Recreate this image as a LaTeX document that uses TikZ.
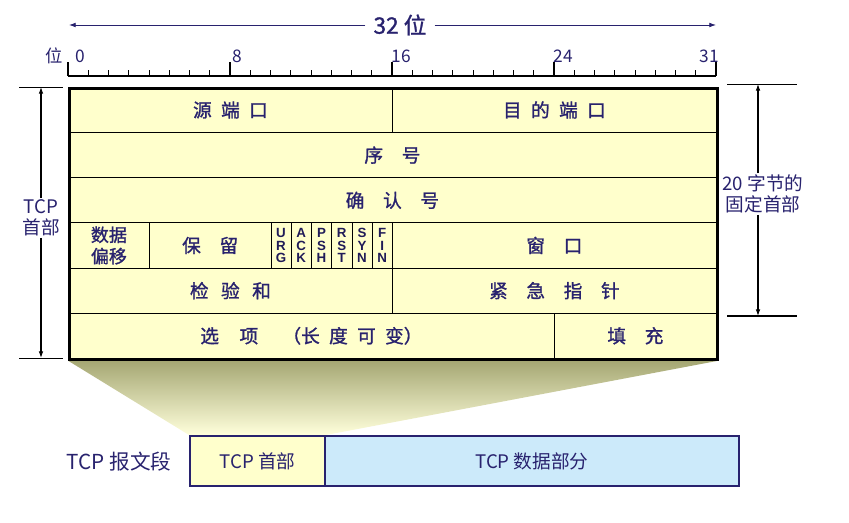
\documentclass[tikz,border=0pt]{standalone}
\usepackage{fontspec}
\setmainfont{Noto Sans CJK SC}
\newfontfamily\fieldcjk{Noto Sans CJK SC}[FakeBold=1.2]
\newfontfamily\flagfont{Liberation Sans}[UprightFont={* Bold}]
\usetikzlibrary{arrows.meta,backgrounds}

\definecolor{hdrfill}{RGB}{255,255,204}
\definecolor{datafill}{RGB}{204,234,250}
\definecolor{navy}{RGB}{40,34,110}
\definecolor{olive}{RGB}{165,167,115}

\tikzset{
  field/.style={draw, line width=0.6pt, fill=hdrfill, anchor=north west, inner sep=0pt,
    minimum height=33.875pt, text=navy, font=\fieldcjk\fontsize{14}{16}\selectfont},
  flagbox/.style={field, minimum width=15.1875pt, align=center, text=navy!80!black,
    font=\flagfont\fontsize{10}{9.6}\selectfont},
  seg/.style={draw=navy, line width=1.5pt, anchor=north west, inner sep=0pt,
    minimum height=37.5pt, text=navy, font=\fontsize{14}{16}\selectfont},
  lbl/.style={text=navy, font=\fontsize{14}{16}\selectfont, align=center, inner sep=1pt},
  num/.style={text=navy, font=\fontsize{13}{15}\selectfont, inner sep=0pt},
  dim/.style={line width=0.8pt, -{Latex[length=5pt,width=3.5pt]}},
}

\begin{document}
\begin{tikzpicture}[x=0.75pt,y=-0.75pt]
  \useasboundingbox (0,0) rectangle (849,523);

  % 32 bit arrow
  \node[num, font=\fieldcjk\fontsize{17}{19}\selectfont] (bits) at (400,25) {32 位};
  \coordinate (bitsL) at (69,25);
  \coordinate (bitsR) at (716,25);
  \draw[dim, draw=navy, line width=0.6pt] (bits.west) ++(-6pt,0) -- (bitsL);
  \draw[dim, draw=navy, line width=0.6pt] (bits.east) ++(6pt,0) -- (bitsR);

  % ruler
  \draw[line width=1.2pt] (68,76) -- (716,76);
  \foreach \b in {1,...,31}
    \draw[line width=0.7pt] (68+20.25*\b,76) -- (68+20.25*\b,70);
  \foreach \b in {0,8,...,32}
    \draw[line width=1.2pt] (68+20.25*\b,76) -- (68+20.25*\b,62);
  \node[num] (wei) at (54,56) {位};
  \node[num] (n0) at (80,56) {0};
  \node[num] (n8) at (237,56) {8};
  \node[num] (n16) at (401,56) {16};
  \node[num] (n24) at (563,56) {24};
  \node[num] (n31) at (709,56) {31};

  % first row
  \node[field, minimum width=243pt] (srcport) at (68,87) {源\enspace 端\enspace 口};
  \node[field, minimum width=243pt] (dstport) at (392,87) {目\enspace 的\enspace 端\enspace 口};

  % second and third rows
  \node[field, minimum width=486pt] (seqno) at (68,132.17) {序\quad 号};
  \node[field, minimum width=486pt] (ackno) at (68,177.33) {确\quad 认\quad 号};

  % fourth row
  \node[field, minimum width=60.75pt, align=center, font=\fieldcjk\fontsize{13.5}{16}\selectfont]
    (offset) at (68,222.5) {数据\\偏移};
  \node[field, minimum width=91.125pt] (resv) at (149,222.5) {保\quad 留};
  \foreach \flg/\nm [count=\i from 0] in {{U\\R\\G}/urg,{A\\C\\K}/ack,{P\\S\\H}/psh,
      {R\\S\\T}/rst,{S\\Y\\N}/syn,{F\\I\\N}/fin}
    \node[flagbox] (\nm) at (270.5+20.25*\i,222.5) {\flg};
  \node[field, minimum width=243pt] (window) at (392,222.5) {窗\quad 口};

  % fifth row
  \node[field, minimum width=243pt] (checksum) at (68,267.67) {检\enspace\thinspace 验\enspace\thinspace 和};
  \node[field, minimum width=243pt] (urgptr) at (392,267.67) {紧\quad 急\quad 指\quad 针};

  % sixth row
  \node[field, minimum width=364.5pt] (options) at (68,312.83)
    {选\hspace{1.1em}项\hspace{1.3em}（长\enspace 度\enspace 可\enspace 变）};
  \node[field, minimum width=121.5pt] (padding) at (554,312.83) {填\quad 充};

  % outer frame
  \node[draw, line width=2pt, anchor=north west, inner sep=0pt,
    minimum width=486pt, minimum height=203.25pt] (header) at (68,87) {};

  % TCP header height, left
  \node[lbl] (tcphdr) at (41,218) {TCP\\首部};
  \coordinate (hdrTop) at (41,87);
  \coordinate (hdrBot) at (41,358);
  \draw[line width=0.6pt] (19,87) -- (63,87);
  \draw[line width=0.6pt] (19,358) -- (63,358);
  \draw[dim] (tcphdr) -- (hdrTop);
  \draw[dim] (tcphdr) -- (hdrBot);

  % fixed 20 bytes, right
  \node[lbl] (fixed) at (763,194) {20 字节的\\固定首部};
  \coordinate (fixTop) at (758,84);
  \coordinate (fixBot) at (758,316);
  \draw[line width=0.6pt] (727,84) -- (797,84);
  \draw[line width=1.2pt] (727,316) -- (797,316);
  \draw[dim] (fixed.north -| fixTop) -- (fixTop);
  \draw[dim] (fixed.south -| fixBot) -- (fixBot);

  % TCP segment
  \node[lbl, font=\fontsize{15.5}{17}\selectfont] (segment) at (119,462) {TCP 报文段};
  \node[seg, fill=hdrfill, minimum width=101.25pt] (seghdr) at (189,435) {TCP 首部};
  \node[seg, fill=datafill, minimum width=310.5pt] (segdata) at (324,435) {TCP 数据部分};

  % zoom shading
  \begin{scope}[on background layer]
    \shade[top color=olive, bottom color=hdrfill!70!white]
      (header.south west) -- (header.south east) -- (seghdr.north east) -- (seghdr.north west) -- cycle;
  \end{scope}
\end{tikzpicture}
\end{document}
